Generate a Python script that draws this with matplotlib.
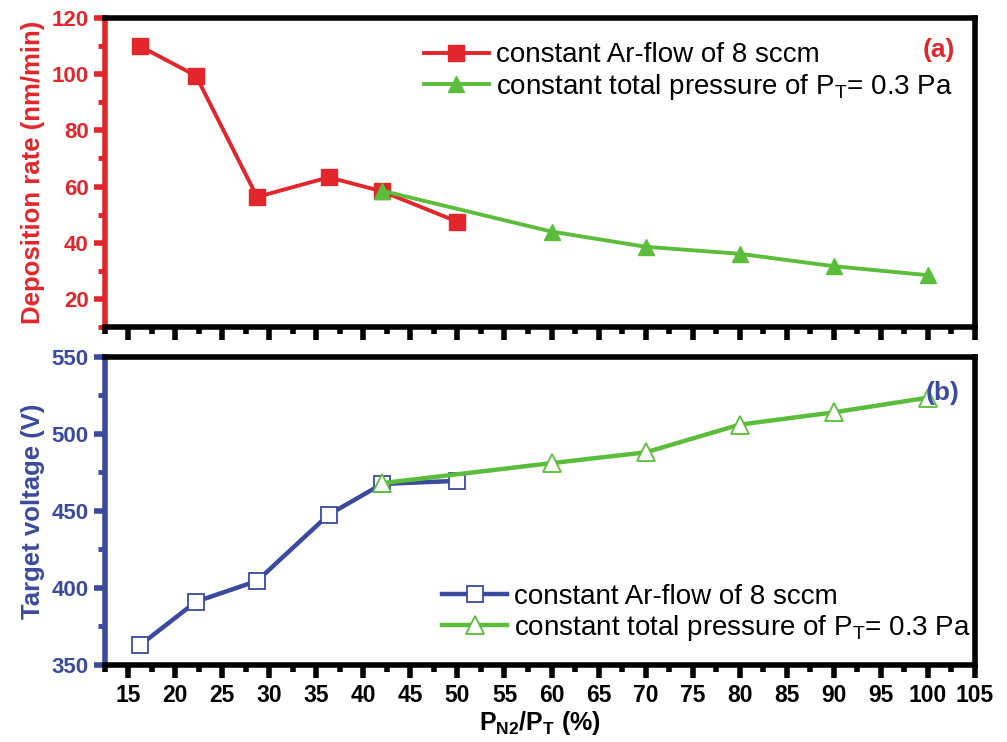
import matplotlib.pyplot as plt
from matplotlib.ticker import MultipleLocator

plt.rcParams['font.family'] = ['Liberation Sans', 'DejaVu Sans']

# N2 partial pressure ratio (%)
ratio_ar = [16.3, 22.2, 28.7, 36.3, 42.0, 50.0]
ratio_pt = [42.0, 60.0, 70.0, 80.0, 90.0, 100.0]

# deposition rate (nm/min)
rate_ar = [109.8, 99.4, 56.3, 63.3, 58.3, 47.5]
rate_pt = [58.5, 44.0, 38.6, 36.1, 31.7, 28.5]

# target voltage (V)
volt_ar = [363, 391, 404.5, 447.5, 467.5, 469.5]
volt_pt = [468, 481, 488, 506, 514, 523.5]

red = '#e2262b'
green = '#5cbd3c'
blue = '#3b4a9c'

fig = plt.figure(figsize=(10.07, 7.42), dpi=100)
ax1 = fig.add_axes([0.104, 0.559, 0.864, 0.417])
ax2 = fig.add_axes([0.104, 0.104, 0.864, 0.415])

lbl_ar = 'constant Ar-flow of 8 sccm'
lbl_pt = 'constant total pressure of P$_\\mathregular{T}$= 0.3 Pa'

ax1.plot(ratio_ar, rate_ar, '-s', color=red, lw=2.8, ms=11, label=lbl_ar)
ax1.plot(ratio_pt, rate_pt, '-^', color=green, lw=2.8, ms=12, label=lbl_pt)

ax2.plot(ratio_ar, volt_ar, '-s', color=blue, lw=3.2, ms=11.5, mfc='white', mec=blue, mew=1.3, label=lbl_ar)
ax2.plot(ratio_pt, volt_pt, '-^', color=green, lw=3.2, ms=12.5, mfc='white', mec=green, mew=1.3, label=lbl_pt)

ax1.set_ylim(10, 120)
ax2.set_ylim(350, 550)
ax1.yaxis.set_major_locator(MultipleLocator(20))
ax1.yaxis.set_minor_locator(MultipleLocator(10))
ax2.yaxis.set_major_locator(MultipleLocator(50))
ax2.yaxis.set_minor_locator(MultipleLocator(25))

for ax, col in [(ax1, red), (ax2, blue)]:
    ax.set_xlim(12.5, 105)
    ax.xaxis.set_major_locator(MultipleLocator(5))
    ax.xaxis.set_minor_locator(MultipleLocator(2.5))
    for s in ['top', 'right', 'bottom']:
        ax.spines[s].set_linewidth(4)
        ax.spines[s].set_color('black')
    ax.spines['left'].set_linewidth(4)
    ax.spines['left'].set_color(col)
    ax.tick_params(axis='x', which='major', direction='out', length=9, width=4, color='black')
    ax.tick_params(axis='x', which='minor', direction='out', length=5, width=4, color='black')
    ax.tick_params(axis='y', which='major', direction='out', length=8, width=4, color=col,
                   labelcolor=col, labelsize=16)
    ax.tick_params(axis='y', which='minor', direction='out', length=5, width=3.5, color=col)
    ax.tick_params(axis='x', labelsize=16.5, pad=5)
    for t in ax.get_yticklabels() + ax.get_xticklabels():
        t.set_fontweight('bold')

ax1.tick_params(axis='x', labelbottom=False)

ax1.set_ylabel('Deposition rate (nm/min)', color=red, fontsize=18.5, fontweight='bold', labelpad=5)
ax2.set_ylabel('Target voltage (V)', color=blue, fontsize=18.5, fontweight='bold', labelpad=5)
ax2.set_xlabel('P$_\\mathregular{N2}$/P$_\\mathregular{T}$ (%)', fontsize=18, fontweight='bold', labelpad=1)

leg_kw = dict(frameon=False, fontsize=20, handlelength=2.35, handletextpad=0.25,
              labelspacing=0.12, borderaxespad=0)
ax1.legend(loc='upper left', bbox_to_anchor=(0.354, 0.957), **leg_kw)
ax2.legend(loc='lower left', bbox_to_anchor=(0.375, 0.035), **leg_kw)

ax1.text(0.977, 0.895, '(a)', transform=ax1.transAxes, color=red, fontsize=19,
         fontweight='bold', ha='right', va='center')
ax2.text(0.983, 0.883, '(b)', transform=ax2.transAxes, color=blue, fontsize=19,
         fontweight='bold', ha='right', va='center')

fig.savefig('out.png', dpi=100, facecolor='white')
